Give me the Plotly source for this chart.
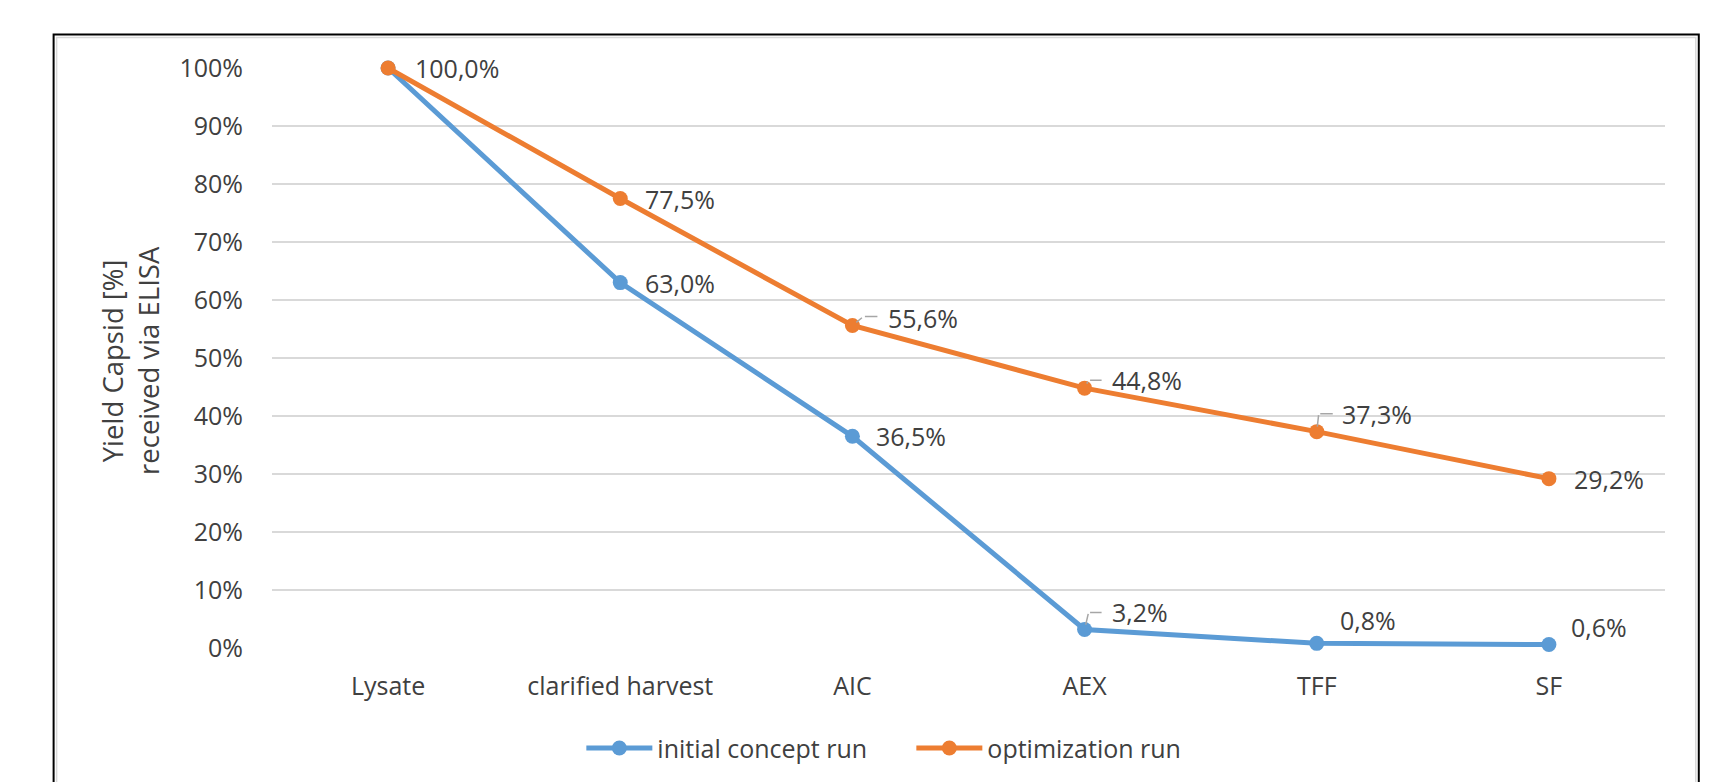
import plotly.graph_objects as go

categories = ["Lysate", "clarified harvest", "AIC", "AEX", "TFF", "SF"]
initial_run = [1.000, 0.630, 0.365, 0.032, 0.008, 0.006]
optimization_run = [1.000, 0.775, 0.556, 0.448, 0.373, 0.292]
y_ticks = [0, 0.1, 0.2, 0.3, 0.4, 0.5, 0.6, 0.7, 0.8, 0.9, 1.0]
y_tick_labels = ["0%", "10%", "20%", "30%", "40%", "50%", "60%", "70%", "80%", "90%", "100%"]

BLUE = "#5B9BD5"
ORANGE = "#ED7D31"
TXT = "#404040"
FONT = "Open Sans"
FS = 25
FS_TITLE = 27.5

# page body has an 8px margin; figure is sized/placed to compensate
OFF = 8
W, H = 1728, 774
L, T = 263.5, 59.5
PW, PH = 1393.7, 580.2
R, B = W - L - PW, H - T - PH
SX0, SY1 = L + OFF, T + OFF + PH  # screen x of plot left, screen y of plot bottom


def px(sx):
    return (sx - SX0) / PW


def py(sy):
    return (SY1 - sy) / PH


fig = go.Figure()
fig.add_trace(go.Scatter(x=categories, y=initial_run, mode="lines+markers", name="initial concept run",
                         line=dict(color=BLUE, width=5), marker=dict(size=15, color=BLUE),
                         cliponaxis=False))
fig.add_trace(go.Scatter(x=categories, y=optimization_run, mode="lines+markers", name="optimization run",
                         line=dict(color=ORANGE, width=5), marker=dict(size=15, color=ORANGE),
                         cliponaxis=False))


def fmt(v):
    return f"{v*100:.1f}".replace(".", ",") + "%"


# label offsets (px): dx right, dy up, optional leader (corner dx, corner dy, end dx)
init_offsets = [None, (23, 0, None), (22, 0, None), (25, 17, (4, 17, 17)), (21, 23, None), (20, 18, None)]
opt_offsets = [(25, 0, None), (23, 0, None), (34, 8, (11, 9, 25)), (25, 8, (4, 8, 17)),
               (23, 18, (2, 18, 16)), (23, 0, None)]

annotations = []
for series, offs in ((initial_run, init_offsets), (optimization_run, opt_offsets)):
    for cat, v, off in zip(categories, series, offs):
        if off is None:
            continue
        dx, dy, leader = off
        annotations.append(dict(x=cat, y=v, xref="x", yref="y", text=fmt(v), showarrow=False,
                                xanchor="left", yanchor="middle", xshift=dx, yshift=dy,
                                font=dict(family=FONT, size=FS, color=TXT)))
        if leader:
            cx, cy, ex = leader
            annotations.append(dict(x=cat, y=v, xref="x", yref="y", text="", showarrow=True,
                                    arrowhead=0, arrowwidth=1.5, arrowcolor="#A6A6A6",
                                    ax=cx, ay=-cy, axref="pixel", ayref="pixel", standoff=5))
            annotations.append(dict(x=cat, y=v, xref="x", yref="y", text="", showarrow=True,
                                    arrowhead=0, arrowwidth=1.5, arrowcolor="#A6A6A6",
                                    ax=-(ex - cx), ay=0, xshift=ex, yshift=cy, standoff=0))

# y axis title
annotations.append(dict(x=px(130), y=py(360), xref="paper", yref="paper",
                        text="Yield Capsid [%]<br>received via ELISA", showarrow=False, textangle=-90,
                        xanchor="center", yanchor="middle",
                        font=dict(family=FONT, size=FS_TITLE, color=TXT)))

shapes = [
    dict(type="rect", xref="paper", yref="paper",
         x0=px(53), x1=px(1699), y0=py(800), y1=py(34),
         line=dict(color="black", width=2), fillcolor="rgba(0,0,0,0)", layer="below"),
    dict(type="rect", xref="paper", yref="paper",
         x0=px(56), x1=px(1696), y0=py(800), y1=py(37),
         line=dict(color="#D9D9D9", width=1.5), fillcolor="rgba(0,0,0,0)", layer="below"),
]

fig.update_layout(
    width=W, height=H,
    margin=dict(l=L, r=R, t=T, b=B, autoexpand=False),
    paper_bgcolor="white", plot_bgcolor="white",
    font=dict(family=FONT, size=FS, color=TXT),
    showlegend=True,
    legend=dict(orientation="h", x=px(581), xanchor="left", y=py(748), yanchor="middle",
                font=dict(family=FONT, size=FS, color=TXT),
                itemwidth=66, entrywidth=249, entrywidthmode="pixels",
                bgcolor="rgba(0,0,0,0)"),
    annotations=annotations,
    shapes=shapes,
    xaxis=dict(type="category", categoryorder="array", categoryarray=categories,
               range=[-0.5, len(categories) - 0.5], showgrid=False, zeroline=False,
               showline=False, ticks="", ticklabelstandoff=21,
               tickfont=dict(family=FONT, size=FS, color=TXT)),
    yaxis=dict(range=[0, 1], tickvals=y_ticks, ticktext=y_tick_labels,
               showgrid=True, gridcolor="#D9D9D9", gridwidth=2, zeroline=False,
               showline=False, ticks="", ticklabelstandoff=28,
               tickfont=dict(family=FONT, size=FS, color=TXT)),
)

fig.write_html("out.html")
